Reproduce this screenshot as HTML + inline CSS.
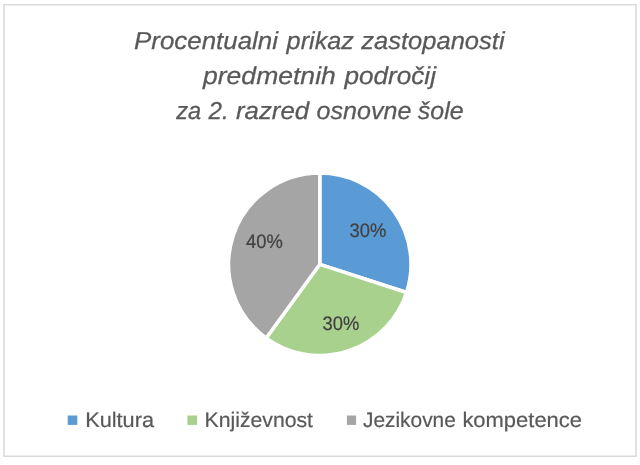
<!DOCTYPE html>
<html><head><meta charset="utf-8">
<style>
html,body{margin:0;padding:0;background:#fff;width:640px;height:465px;overflow:hidden}
svg{display:block;font-family:"Liberation Sans", sans-serif;will-change:transform;text-rendering:geometricPrecision}
</style></head><body>
<svg width="640" height="465" viewBox="0 0 640 465">
<rect x="0" y="0" width="640" height="465" fill="#fff"/>
<rect x="4" y="4.75" width="632" height="451.5" fill="none" stroke="#d9d9d9" stroke-width="1.5"/>
<g fill="#595959" font-style="italic" font-size="24.5" stroke="#595959" stroke-width="0.25">
<text x="134.00" y="49.0" textLength="144.00" lengthAdjust="spacingAndGlyphs">Procentualni</text>
<text x="286.60" y="49.0" textLength="67.40" lengthAdjust="spacingAndGlyphs">prikaz</text>
<text x="361.20" y="49.0" textLength="143.40" lengthAdjust="spacingAndGlyphs">zastopanosti</text>
<text x="203.00" y="83.8" textLength="132.80" lengthAdjust="spacingAndGlyphs">predmetnih</text>
<text x="344.40" y="83.8" textLength="91.60" lengthAdjust="spacingAndGlyphs">področij</text>
<text x="176.20" y="118.6" textLength="25.00" lengthAdjust="spacingAndGlyphs">za</text>
<text x="208.60" y="118.6" textLength="20.20" lengthAdjust="spacingAndGlyphs">2.</text>
<text x="236.00" y="118.6" textLength="73.20" lengthAdjust="spacingAndGlyphs">razred</text>
<text x="316.60" y="118.6" textLength="94.80" lengthAdjust="spacingAndGlyphs">osnovne</text>
<text x="417.80" y="118.6" textLength="45.80" lengthAdjust="spacingAndGlyphs">šole</text>
</g>
<g stroke="#fff" stroke-width="3.5" stroke-linejoin="miter">
<path d="M319.8,264.3 L319.80,173.10 A91.2,91.2 0 0 1 406.54,292.48 Z" fill="#5B9BD5"/>
<path d="M319.8,264.3 L406.54,292.48 A91.2,91.2 0 0 1 266.19,338.08 Z" fill="#A9D18E"/>
<path d="M319.8,264.3 L266.19,338.08 A91.2,91.2 0 0 1 319.80,173.10 Z" fill="#A5A5A5"/>
</g>
<g fill="#404040" font-size="19.5" stroke="#404040" stroke-width="0.2">
<text x="349.60" y="236.7" textLength="36.80" lengthAdjust="spacingAndGlyphs">30%</text>
<text x="322.60" y="329.6" textLength="36.80" lengthAdjust="spacingAndGlyphs">30%</text>
<text x="246.00" y="247.5" textLength="36.80" lengthAdjust="spacingAndGlyphs">40%</text>
</g>
<rect x="67.7" y="415.5" width="9.6" height="9.4" fill="#5B9BD5"/>
<rect x="187.4" y="415.5" width="9.6" height="9.4" fill="#A9D18E"/>
<rect x="346.9" y="415.5" width="9.2" height="9.4" fill="#A5A5A5"/>
<g fill="#595959" font-size="21" stroke="#595959" stroke-width="0.2">
<text x="85.20" y="426.75" textLength="68.80" lengthAdjust="spacingAndGlyphs">Kultura</text>
<text x="204.60" y="426.75" textLength="108.40" lengthAdjust="spacingAndGlyphs">Književnost</text>
<text x="363.00" y="426.75" textLength="92.80" lengthAdjust="spacingAndGlyphs">Jezikovne</text>
<text x="462.40" y="426.75" textLength="119.60" lengthAdjust="spacingAndGlyphs">kompetence</text>
</g>
</svg>
</body></html>
